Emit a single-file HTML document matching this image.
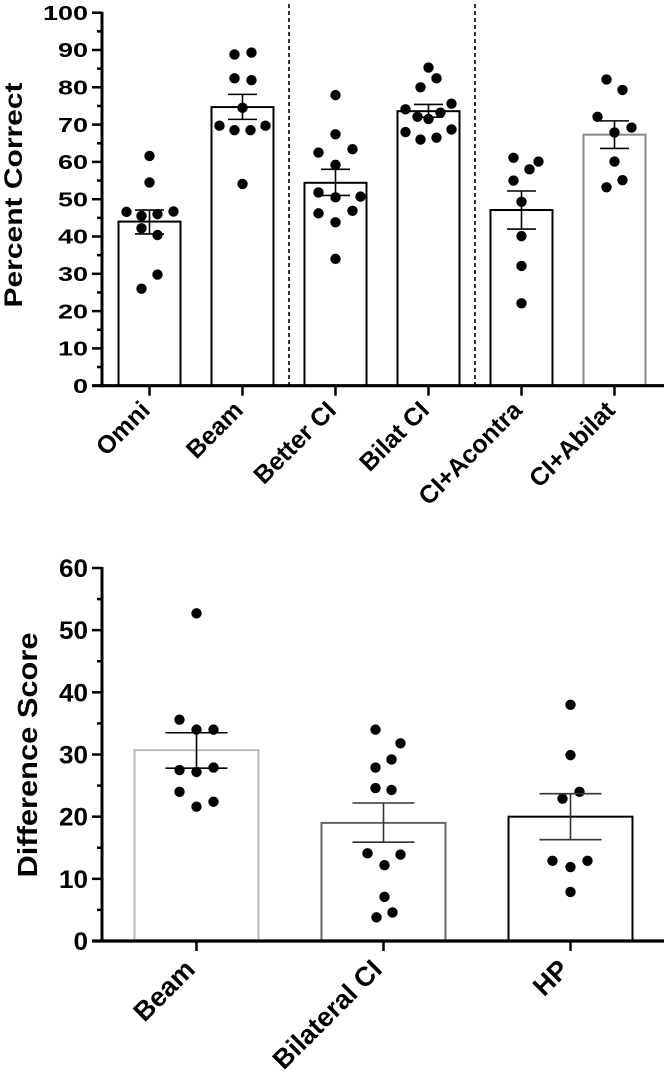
<!DOCTYPE html>
<html><head><meta charset="utf-8"><style>
html,body{margin:0;padding:0;background:#fff;}
svg{display:block;font-family:"Liberation Sans",Arial,sans-serif;}
</style></head><body>
<svg id="chart" width="664" height="1078" viewBox="0 0 664 1078" xmlns="http://www.w3.org/2000/svg">
<g id="top"></g>
<g id="bottom"></g>
</svg>
<script>
// ---- Top chart data ----
const topCategories = ["Omni","Beam","Better CI","Bilat CI","CI+Acontra","CI+Abilat"];
const topMeans = [44.0, 74.7, 54.4, 73.6, 47.1, 67.3];
const topErrHi = [47.1, 78.1, 58.0, 75.4, 52.2, 71.0];
const topErrLo = [40.7, 71.4, 51.0, 72.0, 42.0, 63.6];
const topDotValues = [
  [61.6,54.5,46.6,46.0,46.7,45.5,42.2,40.4,29.8,26.0],
  [88.8,89.3,82.4,81.9,74.5,69.7,68.5,68.5,69.7,54.1],
  [77.9,67.4,62.5,63.4,59.2,51.8,50.5,50.7,46.2,46.9,43.8,34.0],
  [85.3,82.4,80.0,75.6,74.1,73.2,72.1,71.5,68.0,68.7,66.0,66.5],
  [61.1,60.1,58.0,55.0,49.3,40.1,32.1,22.1],
  [82.1,79.3,72.1,69.2,67.9,60.1,55.1,53.2]
];
const topDotJitter = [
  [0,0,-23,8,24,-8,-8,8,8,-8],
  [-8,9,-8,9,0,-23,-8,8,23,0],
  [0,0,-17,17,0,-17,0,25,-17,17,0,0],
  [0,8,-8,23,-23,12,-11,0,-23,23,-8,8],
  [-8,17,8,-8,0,0,0,0],
  [-8,8,-17,17,0,0,8,-8]
];
const topTicks = [0,10,20,30,40,50,60,70,80,90,100];
const topStroke = ["#000","#000","#000","#000","#000","#888"];

// ---- Bottom chart data ----
const botCategories = ["Beam","Bilateral CI","HP"];
const botMeans = [30.7, 19.0, 20.0];
const botErrHi = [33.5, 22.2, 23.7];
const botErrLo = [27.8, 15.9, 16.3];
const botDotValues = [
  [52.7,35.6,34.0,34.0,27.5,27.2,27.9,24.0,21.6,22.4],
  [34.0,31.8,29.2,27.9,24.6,24.3,14.1,13.9,12.2,7.1,4.6,3.8],
  [38.0,29.9,22.9,24.0,12.9,11.9,12.9,7.9]
];
const botDotJitter = [
  [0,-17,0,17,-17,0,17,-17,0,17],
  [-8,17,8,-8,-8,8,-16,17,1,1,9,-7],
  [0,0,-8,9,-18,0,17,0]
];
const botTicks = [0,10,20,30,40,50,60];
const botStroke = ["#bbb","#666","#000"];

const NS="http://www.w3.org/2000/svg";
function mk(parent,tag,attrs){const e=document.createElementNS(NS,tag);for(const k in attrs)e.setAttribute(k,attrs[k]);parent.appendChild(e);return e;}

function drawChart(g,cfg){
  const y=v=>cfg.y0-(v-cfg.min)/(cfg.max-cfg.min)*(cfg.y0-cfg.y1);
  const x=i=>cfg.xStart+i*cfg.step;
  cfg.means.forEach((m,i)=>{
    const r=mk(g,'rect',{x:x(i)-cfg.bw/2,y:y(m),width:cfg.bw,height:y(0)-y(m),fill:'#fff',stroke:cfg.stroke[i],'stroke-width':2});
    
    
  });
  cfg.dots.forEach((arr,i)=>{arr.forEach((v,j)=>{
    const c=mk(g,'circle',{cx:x(i)+cfg.jit[i][j],cy:y(v),r:5.2,fill:'#000'});
    
    
  });});
  cfg.means.forEach((m,i)=>{
    const eg=mk(g,'g',{stroke:cfg.errStroke?cfg.errStroke[i]:'#000','stroke-width':1.6});
    
    
    mk(eg,'line',{x1:x(i),x2:x(i),y1:y(cfg.hi[i]),y2:y(cfg.lo[i])});
    mk(eg,'line',{x1:x(i)-cfg.cap,x2:x(i)+cfg.cap,y1:y(cfg.hi[i]),y2:y(cfg.hi[i])});
    mk(eg,'line',{x1:x(i)-cfg.cap,x2:x(i)+cfg.cap,y1:y(cfg.lo[i]),y2:y(cfg.lo[i])});
  });
  const ya=mk(g,'line',{x1:cfg.ax,x2:cfg.ax,y1:y(cfg.max)-1,y2:y(0)+1.5,stroke:'#000','stroke-width':3});
  
  const xa=mk(g,'line',{x1:cfg.ax-10,x2:664,y1:y(0),y2:y(0),stroke:'#000','stroke-width':3.2});
  
  cfg.ticks.forEach((t,k)=>{
    mk(g,'line',{x1:cfg.ax-10,x2:cfg.ax,y1:y(t),y2:y(t),stroke:'#000','stroke-width':2.5});
    if(k<cfg.ticks.length-1){const mt=(t+cfg.ticks[k+1])/2;mk(g,'line',{x1:cfg.ax-5,x2:cfg.ax,y1:y(mt),y2:y(mt),stroke:'#000','stroke-width':2.5});}
    const s=String(t);
    const tl=mk(g,'text',{x:cfg.ax-14,y:y(t)+cfg.tfs*0.36,'text-anchor':'end','font-size':cfg.tfs,'font-weight':'bold',textLength:s.length*cfg.digitW,lengthAdjust:'spacingAndGlyphs'});
    tl.textContent=s;
    
  });
  cfg.cats.forEach((c,i)=>{
    mk(g,'line',{x1:x(i),x2:x(i),y1:y(0),y2:y(0)+10,stroke:'#000','stroke-width':2.5});
    const lx=x(i)+cfg.lblDx, ly=y(0)+cfg.lblOff;
    const t=mk(g,'text',{x:lx,y:ly,'text-anchor':'end','font-size':cfg.lfs,'font-weight':'bold',transform:`rotate(-45 ${lx} ${ly})`});
    t.textContent=c;
    
  });
  const cy=cfg.titleY;
  const tt=mk(g,'text',{x:cfg.titleX,y:cy,'text-anchor':'middle','font-size':cfg.titfs,'font-weight':'bold',textLength:cfg.titleLen,lengthAdjust:'spacingAndGlyphs',transform:`rotate(-90 ${cfg.titleX} ${cy})`});
  tt.textContent=cfg.title;
  
}

const gTop=document.getElementById('top');
[1.5,3.5].forEach(p=>{
  const l=mk(gTop,'line',{x1:149.5+p*93,x2:149.5+p*93,y1:4,y2:385,stroke:'#000','stroke-width':1.6,'stroke-dasharray':'4,3'});
  
  
});
drawChart(gTop,{min:0,max:100,y0:385.7,y1:12.7,xStart:149.5,step:93,bw:62,cap:14.5,ax:102,
  means:topMeans,hi:topErrHi,lo:topErrLo,dots:topDotValues,jit:topDotJitter,ticks:topTicks,cats:topCategories,
  stroke:topStroke,tfs:20,digitW:15,lfs:25,lblOff:26,lblDx:2,titleX:22,titleY:195,titleLen:225,titfs:25,title:"Percent Correct"});
drawChart(document.getElementById('bottom'),{min:0,max:60,y0:941,y1:568,xStart:196.5,step:187,bw:124,cap:31,ax:102,
  means:botMeans,hi:botErrHi,lo:botErrLo,dots:botDotValues,jit:botDotJitter,ticks:botTicks,cats:botCategories,
  stroke:botStroke,errStroke:["#000","#333","#333"],tfs:25,digitW:14.5,lfs:27,lblOff:30,lblDx:0,titleX:37,titleY:755,titleLen:245,titfs:28,title:"Difference Score"});
</script>
</body></html>
